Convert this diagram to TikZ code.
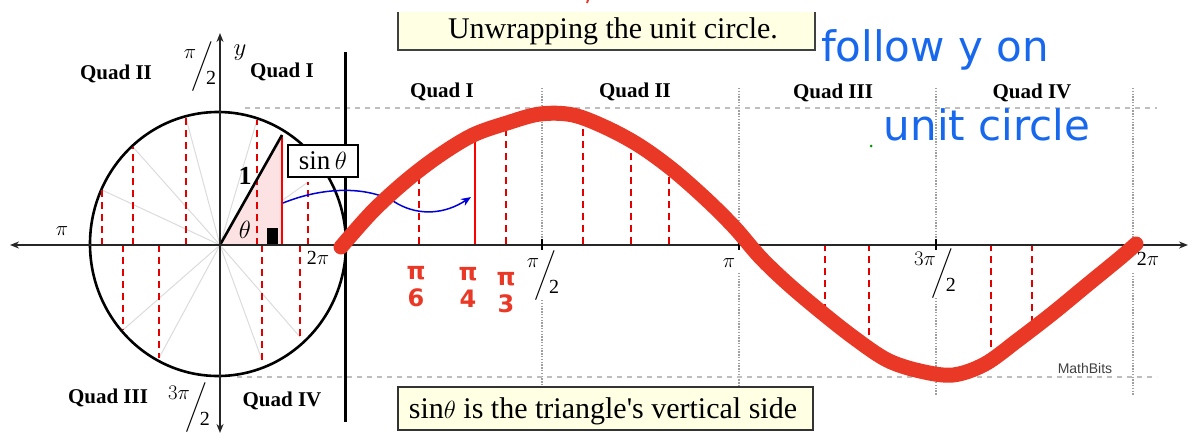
\documentclass[tikz,border=0pt]{standalone}
\usepackage{amsmath}
\usepackage{fontspec}
\setmainfont{Liberation Serif}
\setsansfont{Liberation Sans}
\newfontfamily\handfont{DejaVu Sans}
\usetikzlibrary{arrows.meta}
\definecolor{marker}{RGB}{234,56,38}
\definecolor{pen}{RGB}{24,104,238}
\definecolor{boxfill}{RGB}{255,255,228}
\definecolor{guide}{RGB}{190,190,190}
\definecolor{tri}{RGB}{252,226,226}
\newcommand{\halfof}[2]{\ensuremath{\raisebox{1.5ex}{$#1$}\mkern-4mu\bigg/\mkern-6mu\raisebox{-1.3ex}{#2}}}
\tikzset{
  quad/.style={font=\fontsize{21}{24}\selectfont\bfseries},
  ticklab/.style={font=\fontsize{20}{24}\selectfont},
  guideline/.style={guide, dash pattern=on 5pt off 5pt, line width=1.3pt},
  gridline/.style={gray!75, dash pattern=on 1.4pt off 1.4pt, line width=1.6pt},
  sinedash/.style={red!90!black, dash pattern=on 7pt off 5pt, line width=2pt},
  spoke/.style={gray!28, line width=1pt},
  banner/.style={draw=black!80, line width=2pt, fill=boxfill},
  hand/.style={font=\handfont\fontsize{24}{27}\selectfont\bfseries, text=marker, align=center}
}
\begin{document}
\begin{tikzpicture}[x=1pt,y=-1pt]
  \useasboundingbox (0,0) rectangle (1190,436);
  \foreach \x/\s in {542/300,739/273,936/298,1133/273}{
    \draw[gridline] (\x,88) -- (\x,244);
    \draw[gridline] (\x,\s) -- (\x,395);
  }
  \draw[guideline] (245,108) -- (1157,108);
  \draw[guideline] (237,377) -- (1157,377);
  \foreach \x/\y in {257/120,308/182,186/118,133/147,102/190,123/330,159/358,262/360,300/337}
    \draw[spoke] (220,245) -- (\x,\y);
  \fill[tri] (220,245) -- (282,135) -- (282,245) -- cycle;
  \draw[line width=2.6pt] (218,244) ellipse [x radius=128,y radius=132];
  \foreach \x/\y in {257/120,308/182,186/118,133/147,102/190,123/330,159/358,262/360,300/337}
    \draw[sinedash] (\x,245) -- (\x,\y);
  \foreach \x/\y in {419/172,506/121,583/117,631/142,669/170,825/312,869/350,991/362,1032/333}
    \draw[sinedash] (\x,244) -- (\x,\y);
  \draw[red, line width=2.6pt] (282,135) -- (282,245);
  \draw[red, line width=2.6pt] (475,244) -- (475,133);
  \draw[line width=2.6pt] (220,245) -- (282,135);
  \fill (267,228) rectangle (278,244);
  \draw[black!85, line width=1.6pt, {Stealth[length=9pt,width=7pt]}-{Stealth[length=9pt,width=7pt]}] (10,245) -- (1188,245);
  \draw[black!85, line width=1.6pt, {Stealth[length=9pt,width=7pt]}-{Stealth[length=9pt,width=7pt]}] (220,33) -- (220,433);
  \foreach \x in {542,739,936}
    \draw[line width=1.6pt] (\x,239) -- (\x,250);
  \draw[line width=3pt] (345,52) -- (345,422);

  \coordinate (circlept) at (283,203);
  \coordinate (graphpt) at (471,197);
  \draw[blue!85!black, line width=1.5pt, -{Stealth[length=10pt,width=8pt]}] (circlept) .. controls (325,186) and (370,186) .. (398,204) .. controls (420,216) and (445,214) .. (graphpt);

  \node[draw, fill=white, line width=1.5pt, minimum width=70pt, minimum height=32pt, inner sep=0pt, font=\fontsize{27}{30}\selectfont] (sinbox) at (323,161) {sin\,$\theta$};
  \node[font=\fontsize{26}{30}\selectfont\bfseries] (hyp) at (245,176) {1};
  \node[font=\fontsize{24}{28}\selectfont] (ang) at (245,230) {$\theta$};

  \node[quad] (qtwo) at (116,74) {Quad II};
  \node[quad] (qone) at (282,72) {Quad I};
  \node[quad] (qthree) at (108,398) {Quad III};
  \node[quad] (qfour) at (282,401) {Quad IV};
  \node[quad] (gone) at (442,92) {Quad I};
  \node[quad] (gtwo) at (635,92) {Quad II};
  \node[quad] (gthree) at (833,93) {Quad III};
  \node[quad] (gfour) at (1032,93) {Quad IV};

  \node[font=\fontsize{24}{28}\selectfont] (ylab) at (240,53) {$y$};
  \node[ticklab] (cpi) at (62,231) {$\pi$};
  \node[ticklab] (ctwopi) at (318,258) {2$\pi$};
  \node[ticklab] (chalf) at (200,67) {\halfof{\pi}{2}};
  \node[ticklab] (cthreehalf) at (189,408) {\halfof{3\pi}{2}};
  \node[ticklab] (ghalf) at (543,276) {\halfof{\pi}{2}};
  \node[ticklab] (gpi) at (729,263) {$\pi$};
  \node[ticklab] (gthreehalf) at (935,274) {\halfof{3\pi}{2}};
  \node[ticklab] (gtwopi) at (1148,259) {2$\pi$};

  \fill[boxfill] (398,12) rectangle (815,50);
  \draw[black!75, line width=2pt] (398,12) -- (398,50) -- (815,50) -- (815,12);
  \node[anchor=base, font=\fontsize{30}{34}\selectfont] (title) at (613,38) {Unwrapping the unit circle.};
  \draw[banner] (398,387) rectangle (813,430);
  \node[anchor=base, font=\fontsize{30}{34}\selectfont] (caption) at (603,418) {sin$\theta$ is the triangle\textquotesingle s vertical side};
  \node[font=\sffamily\fontsize{14}{16}\selectfont, text=black!75] (credit) at (1085,368) {MathBits};

  \draw[marker, line width=15pt, line cap=round, line join=round] plot[smooth, tension=0.55] coordinates {(341,247) (373,211) (407,180) (440,155) (473,135) (507,123) (540,114) (573,115) (607,128) (640,146) (673,170) (707,200) (735,228) (760,257) (787,283) (820,311) (853,337) (887,360) (920,371) (953,375) (985,364) (1018,340) (1053,313) (1087,285) (1120,258) (1136,244)};
  \draw[marker, line width=2pt] (588,0) -- (587,3);
  \node[hand] (sixth) at (416,287) {π\\6};
  \node[hand] (quarter) at (468,287) {π\\4};
  \node[hand] (third) at (506,293) {π\\3};

  \node[anchor=base, font=\handfont\fontsize{42}{46}\selectfont, text=pen] (note1) at (935,62) {follow y on};
  \node[anchor=base, font=\handfont\fontsize{42}{46}\selectfont, text=pen] (note2) at (987,140) {unit circle};
  \fill[green!60!black] (871,146) circle (1.5);
\end{tikzpicture}
\end{document}
